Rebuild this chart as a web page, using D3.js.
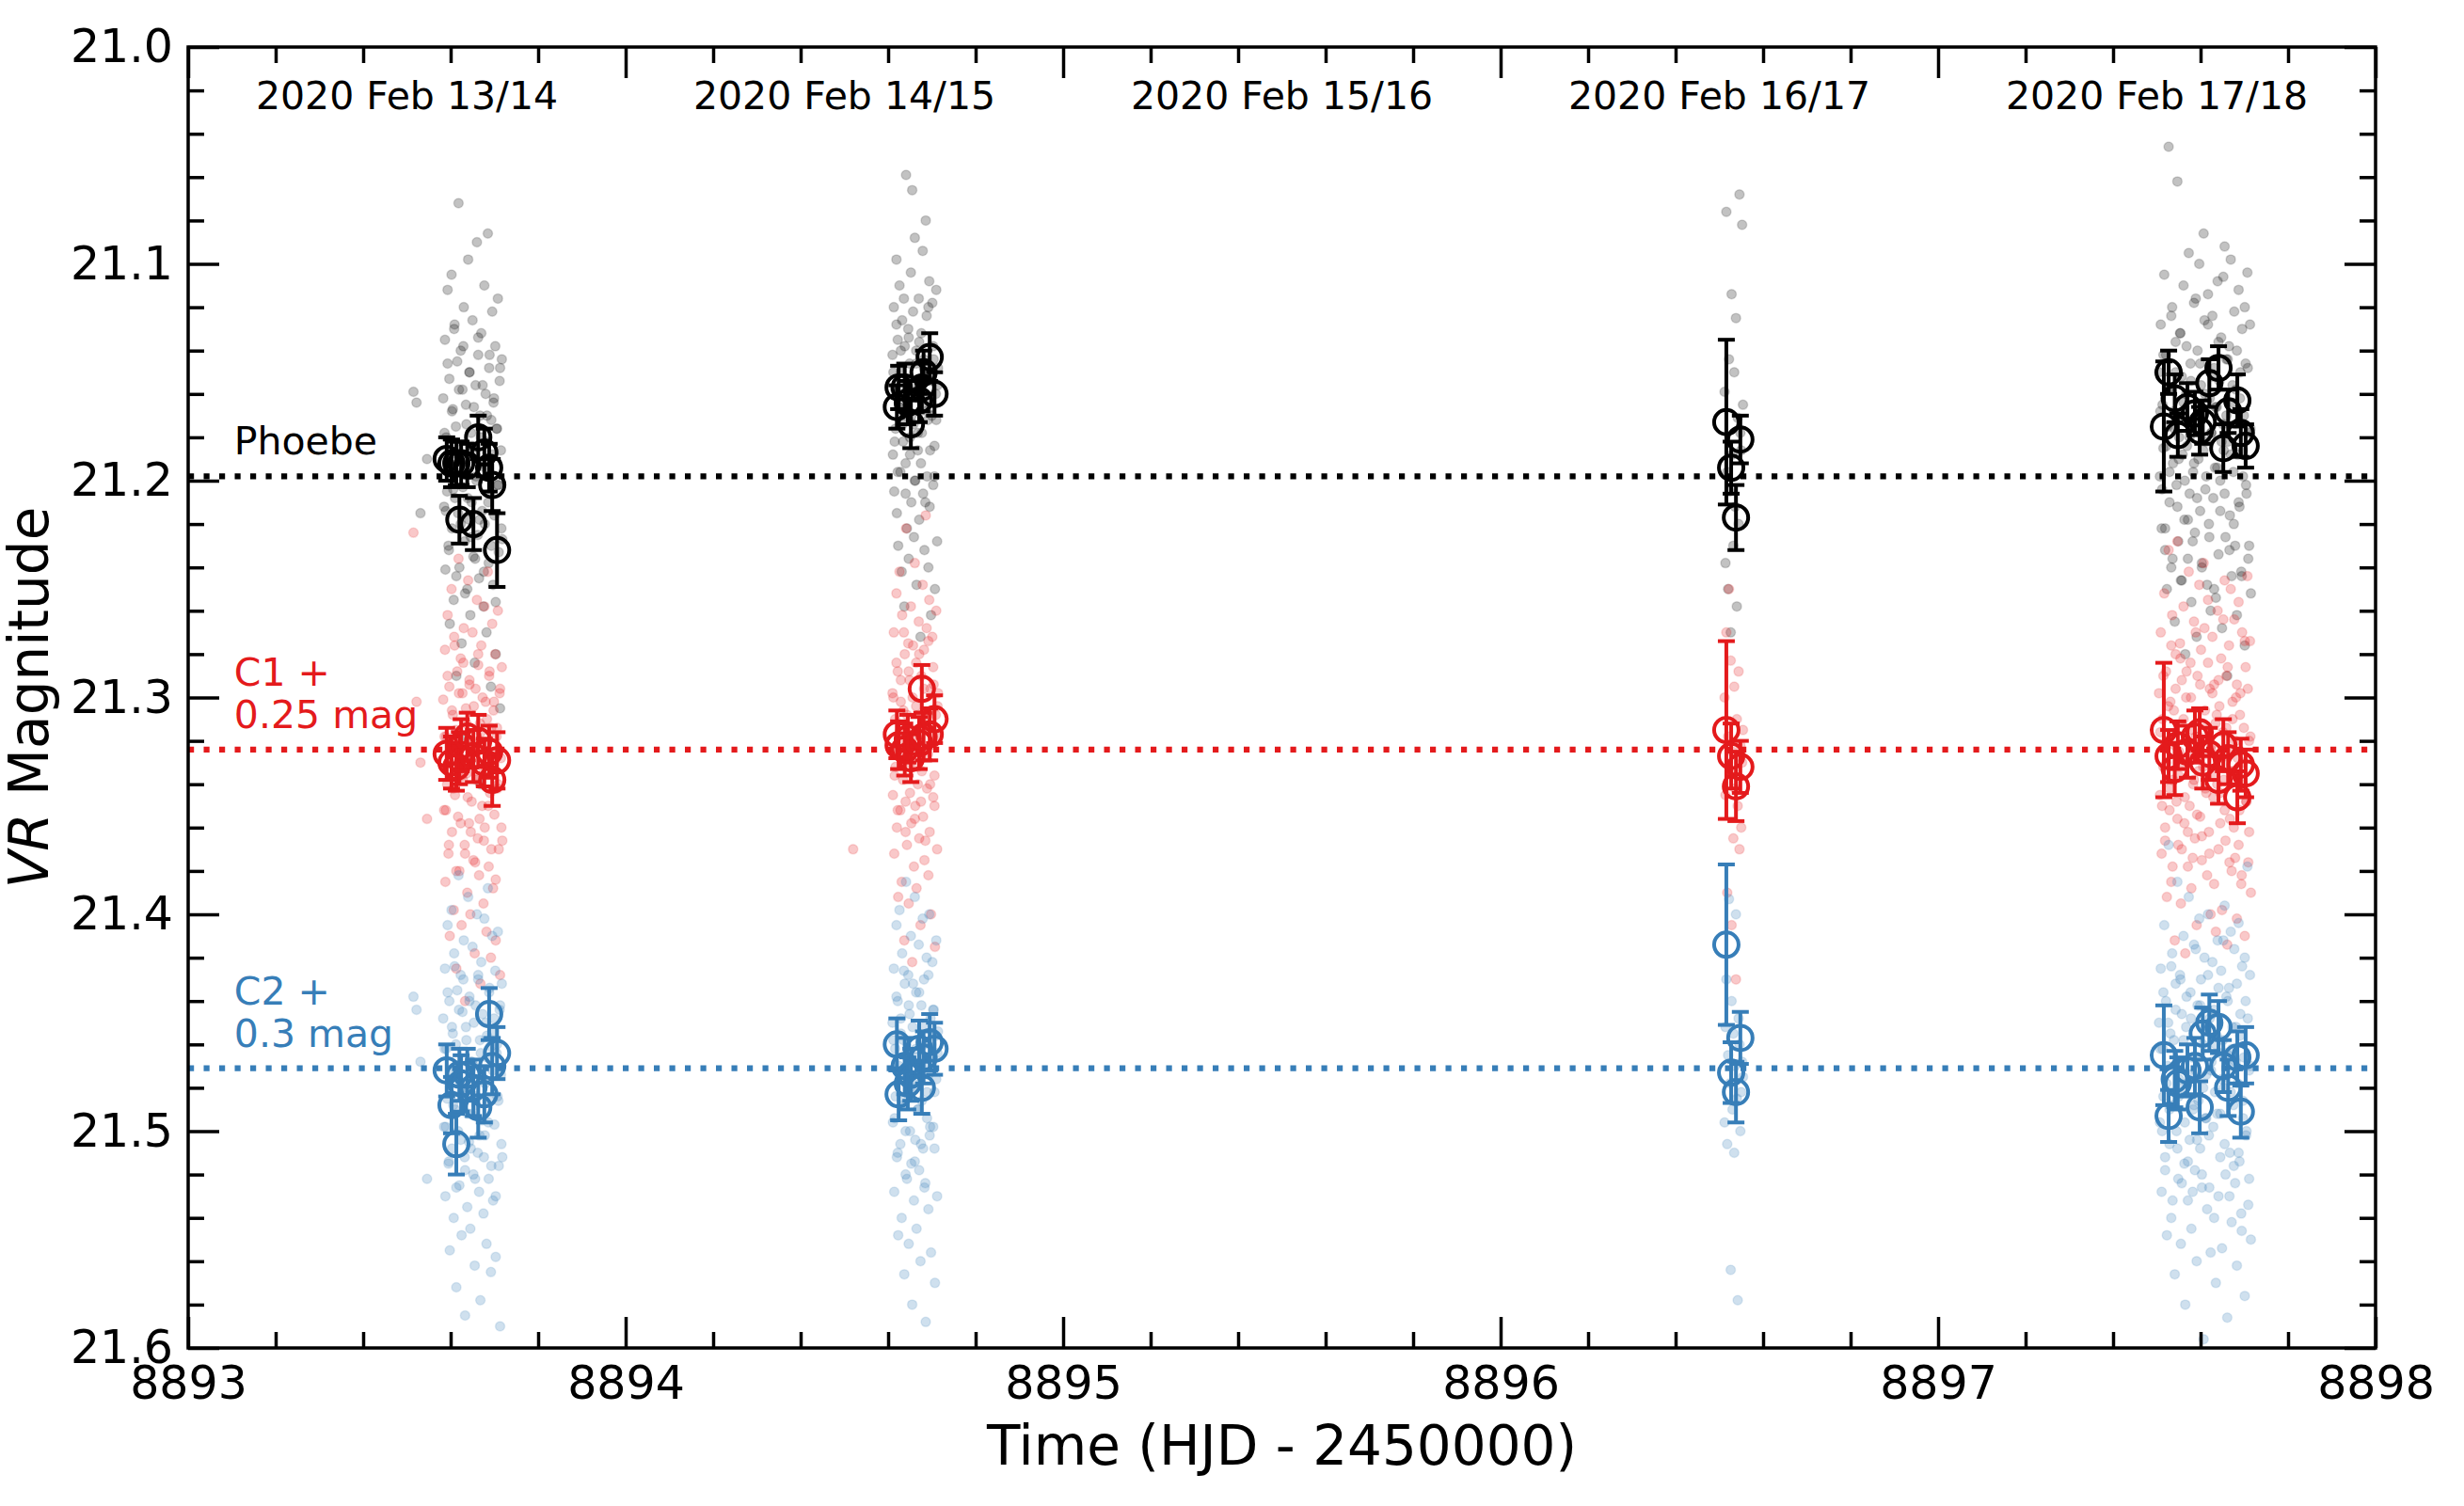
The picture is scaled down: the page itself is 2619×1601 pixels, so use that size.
<!DOCTYPE html>
<html>
<head>
<meta charset="utf-8">
<script src="https://cdn.jsdelivr.net/npm/d3@7"></script>
<style>
body { margin: 0; background: #fff; }
svg { display: block; font-family: "DejaVu Sans", sans-serif; }
</style>
</head>
<body>
<svg width="2619" height="1601"></svg>
<script>
// ---- single frames, Feb 13/14 ----
var night1Time = [8893.515, 8893.522, 8893.531, 8893.546,
    8893.583, 8893.585, 8893.587, 8893.588, 8893.590, 8893.592, 8893.593, 8893.595, 8893.597, 8893.598,
    8893.600, 8893.602, 8893.603, 8893.605, 8893.607, 8893.608, 8893.610, 8893.612, 8893.613, 8893.615,
    8893.617, 8893.618, 8893.620, 8893.622, 8893.623, 8893.625, 8893.627, 8893.628, 8893.630, 8893.632,
    8893.633, 8893.635, 8893.637, 8893.638, 8893.640, 8893.642, 8893.643, 8893.645, 8893.647, 8893.648,
    8893.650, 8893.652, 8893.653, 8893.655, 8893.657, 8893.658, 8893.660, 8893.662, 8893.663, 8893.665,
    8893.667, 8893.668, 8893.670, 8893.672, 8893.673, 8893.675, 8893.677, 8893.678, 8893.680, 8893.682,
    8893.683, 8893.685, 8893.687, 8893.688, 8893.690, 8893.692, 8893.693, 8893.695, 8893.697, 8893.698,
    8893.700, 8893.702, 8893.703, 8893.705, 8893.707, 8893.708, 8893.710, 8893.712, 8893.713, 8893.715,
    8893.717, 8893.718,
    8893.586, 8893.589, 8893.593, 8893.596, 8893.599, 8893.603, 8893.606, 8893.609, 8893.613, 8893.616,
    8893.619, 8893.623, 8893.626, 8893.629, 8893.633, 8893.636, 8893.639, 8893.643, 8893.646, 8893.649,
    8893.653, 8893.656, 8893.659, 8893.663, 8893.666, 8893.669, 8893.673, 8893.676, 8893.679, 8893.683,
    8893.686, 8893.689, 8893.693, 8893.696, 8893.699, 8893.703, 8893.706, 8893.709, 8893.713, 8893.716];
var night1Phoebe = [21.159, 21.164, 21.215, 21.190,
    21.162, 21.212, 21.135, 21.241, 21.180, 21.205, 21.112, 21.230, 21.153, 21.266,
    21.188, 21.105, 21.222, 21.167, 21.255, 21.130, 21.208, 21.175, 21.290, 21.145,
    21.215, 21.072, 21.240, 21.190, 21.140, 21.275, 21.158, 21.203, 21.120, 21.228,
    21.318, 21.165, 21.195, 21.250, 21.098, 21.218, 21.150, 21.262, 21.178, 21.210,
    21.126, 21.235, 21.185, 21.284, 21.156, 21.198, 21.090, 21.225, 21.142, 21.245,
    21.170, 21.340, 21.132, 21.214, 21.192, 21.258, 21.110, 21.220, 21.160, 21.270,
    21.182, 21.086, 21.238, 21.148, 21.206, 21.295, 21.172, 21.122, 21.248, 21.164,
    21.216, 21.138, 21.280, 21.176, 21.202, 21.116, 21.233, 21.154, 21.305, 21.186,
    21.144, 21.227,
    21.178, 21.214, 21.146, 21.232, 21.192, 21.168, 21.204, 21.128, 21.244, 21.186,
    21.158, 21.220, 21.196, 21.138, 21.252, 21.174, 21.208, 21.150, 21.226, 21.184,
    21.166, 21.236, 21.200, 21.134, 21.218, 21.180, 21.156, 21.242, 21.194, 21.170,
    21.210, 21.142, 21.230, 21.188, 21.162, 21.256, 21.176, 21.202, 21.148, 21.222];
var night1C1 = [21.224, 21.302, 21.330, 21.356,
    21.301, 21.352, 21.278, 21.385, 21.318, 21.340, 21.262, 21.372, 21.295, 21.410,
    21.326, 21.250, 21.362, 21.308, 21.398, 21.272, 21.345, 21.315, 21.425, 21.288,
    21.355, 21.236, 21.380, 21.330, 21.282, 21.405, 21.298, 21.338, 21.268, 21.368,
    21.440, 21.305, 21.335, 21.390, 21.246, 21.358, 21.292, 21.400, 21.320, 21.348,
    21.270, 21.375, 21.325, 21.418, 21.296, 21.336, 21.255, 21.365, 21.285, 21.382,
    21.312, 21.432, 21.276, 21.350, 21.332, 21.395, 21.258, 21.360, 21.302, 21.408,
    21.322, 21.242, 21.378, 21.290, 21.344, 21.420, 21.314, 21.266, 21.388, 21.306,
    21.354, 21.280, 21.412, 21.318, 21.342, 21.260, 21.370, 21.298, 21.428, 21.328,
    21.286, 21.366,
    21.318, 21.352, 21.290, 21.368, 21.330, 21.306, 21.342, 21.276, 21.380, 21.324,
    21.298, 21.358, 21.336, 21.284, 21.372, 21.312, 21.346, 21.294, 21.362, 21.322,
    21.304, 21.376, 21.338, 21.280, 21.356, 21.316, 21.300, 21.366, 21.332, 21.310,
    21.350, 21.288, 21.370, 21.326, 21.302, 21.384, 21.314, 21.340, 21.296, 21.360];
var night1C2 = [21.438, 21.444, 21.468, 21.522,
    21.448, 21.498, 21.425, 21.530, 21.462, 21.485, 21.405, 21.515, 21.440, 21.555,
    21.472, 21.398, 21.508, 21.455, 21.540, 21.418, 21.490, 21.460, 21.572, 21.435,
    21.500, 21.382, 21.525, 21.478, 21.428, 21.548, 21.445, 21.482, 21.412, 21.512,
    21.585, 21.452, 21.480, 21.535, 21.392, 21.505, 21.438, 21.545, 21.468, 21.492,
    21.415, 21.520, 21.470, 21.562, 21.442, 21.488, 21.400, 21.510, 21.430, 21.528,
    21.458, 21.578, 21.422, 21.495, 21.476, 21.538, 21.402, 21.502, 21.450, 21.552,
    21.466, 21.388, 21.522, 21.436, 21.486, 21.565, 21.461, 21.410, 21.532, 21.454,
    21.497, 21.426, 21.558, 21.464, 21.484, 21.408, 21.516, 21.444, 21.590, 21.474,
    21.432, 21.512,
    21.462, 21.498, 21.436, 21.514, 21.476, 21.452, 21.488, 21.424, 21.526, 21.470,
    21.444, 21.504, 21.482, 21.430, 21.518, 21.458, 21.492, 21.440, 21.508, 21.468,
    21.450, 21.522, 21.484, 21.428, 21.502, 21.464, 21.446, 21.512, 21.478, 21.456,
    21.496, 21.434, 21.516, 21.472, 21.448, 21.530, 21.460, 21.486, 21.442, 21.506];

// ---- single frames, Feb 14/15 ----
var night2Time = [8894.520,
    8894.610, 8894.611, 8894.613, 8894.614, 8894.616, 8894.617, 8894.619, 8894.620, 8894.622, 8894.623,
    8894.625, 8894.626, 8894.628, 8894.629, 8894.631, 8894.632, 8894.634, 8894.635, 8894.637, 8894.638,
    8894.640, 8894.641, 8894.643, 8894.644, 8894.646, 8894.647, 8894.649, 8894.650, 8894.652, 8894.653,
    8894.655, 8894.656, 8894.658, 8894.659, 8894.661, 8894.662, 8894.664, 8894.665, 8894.667, 8894.668,
    8894.670, 8894.671, 8894.673, 8894.674, 8894.676, 8894.677, 8894.679, 8894.680, 8894.682, 8894.683,
    8894.685, 8894.686, 8894.688, 8894.689, 8894.691, 8894.692, 8894.694, 8894.695, 8894.697, 8894.698,
    8894.700, 8894.701, 8894.703, 8894.704, 8894.706, 8894.707, 8894.709, 8894.710, 8894.712, 8894.713,
    8894.612, 8894.615, 8894.619, 8894.622, 8894.626, 8894.629, 8894.633, 8894.636, 8894.640, 8894.643,
    8894.647, 8894.650, 8894.654, 8894.657, 8894.661, 8894.664, 8894.668, 8894.671, 8894.675, 8894.678,
    8894.682, 8894.685, 8894.689, 8894.692, 8894.696, 8894.699, 8894.703, 8894.706, 8894.710, 8894.714];
var night2Phoebe = [null,
    21.142, 21.188, 21.120, 21.205, 21.158, 21.176, 21.098, 21.215, 21.135, 21.230,
    21.166, 21.110, 21.196, 21.150, 21.242, 21.126, 21.182, 21.160, 21.258, 21.138,
    21.192, 21.059, 21.222, 21.170, 21.130, 21.236, 21.146, 21.180, 21.104, 21.210,
    21.066, 21.155, 21.174, 21.226, 21.088, 21.200, 21.140, 21.248, 21.162, 21.186,
    21.116, 21.218, 21.168, 21.272, 21.132, 21.178, 21.094, 21.206, 21.148, 21.232,
    21.164, 21.080, 21.124, 21.198, 21.172, 21.240, 21.108, 21.212, 21.152, 21.262,
    21.170, 21.118, 21.202, 21.144, 21.184, 21.250, 21.160, 21.112, 21.228, 21.156,
    21.150, 21.182, 21.128, 21.196, 21.166, 21.140, 21.174, 21.116, 21.206, 21.158,
    21.134, 21.188, 21.170, 21.122, 21.200, 21.146, 21.178, 21.136, 21.192, 21.162,
    21.144, 21.210, 21.168, 21.120, 21.186, 21.154, 21.138, 21.198, 21.172, 21.148];
var night2C1 = [21.370,
    21.298, 21.345, 21.270, 21.372, 21.310, 21.332, 21.252, 21.360, 21.288, 21.392,
    21.320, 21.242, 21.352, 21.302, 21.385, 21.262, 21.338, 21.306, 21.412, 21.280,
    21.348, 21.222, 21.368, 21.325, 21.275, 21.395, 21.292, 21.330, 21.258, 21.358,
    21.422, 21.300, 21.328, 21.378, 21.238, 21.350, 21.284, 21.388, 21.315, 21.340,
    21.265, 21.365, 21.318, 21.405, 21.290, 21.334, 21.248, 21.355, 21.278, 21.375,
    21.312, 21.216, 21.268, 21.342, 21.326, 21.382, 21.255, 21.362, 21.296, 21.400,
    21.322, 21.272, 21.346, 21.294, 21.336, 21.415, 21.308, 21.260, 21.370, 21.304,
    21.300, 21.336, 21.284, 21.352, 21.316, 21.292, 21.328, 21.270, 21.362, 21.308,
    21.288, 21.344, 21.320, 21.276, 21.356, 21.304, 21.332, 21.280, 21.348, 21.312,
    21.296, 21.366, 21.324, 21.274, 21.340, 21.306, 21.286, 21.350, 21.318, 21.298];
var night2C2 = [null,
    21.450, 21.496, 21.425, 21.528, 21.462, 21.484, 21.405, 21.512, 21.440, 21.548,
    21.470, 21.398, 21.506, 21.455, 21.540, 21.418, 21.488, 21.458, 21.566, 21.432,
    21.500, 21.385, 21.522, 21.476, 21.428, 21.552, 21.446, 21.480, 21.410, 21.515,
    21.580, 21.452, 21.478, 21.532, 21.392, 21.504, 21.436, 21.545, 21.466, 21.490,
    21.414, 21.518, 21.472, 21.560, 21.442, 21.486, 21.402, 21.508, 21.430, 21.526,
    21.460, 21.588, 21.420, 21.494, 21.474, 21.536, 21.400, 21.502, 21.448, 21.556,
    21.468, 21.422, 21.498, 21.444, 21.482, 21.570, 21.456, 21.412, 21.530, 21.464,
    21.458, 21.494, 21.438, 21.510, 21.474, 21.448, 21.486, 21.426, 21.520, 21.466,
    21.442, 21.500, 21.480, 21.432, 21.514, 21.462, 21.490, 21.436, 21.506, 21.470,
    21.452, 21.524, 21.482, 21.428, 21.498, 21.460, 21.444, 21.508, 21.476, 21.454];

// ---- single frames, Feb 16/17 ----
var night4Time = [8896.512, 8896.514, 8896.516, 8896.518, 8896.520, 8896.522, 8896.524, 8896.526,
    8896.528, 8896.530, 8896.532, 8896.534, 8896.536, 8896.538, 8896.540, 8896.542, 8896.544, 8896.546,
    8896.548, 8896.550, 8896.552, 8896.554];
var night4Phoebe = [21.159, 21.238, 21.076, 21.196, 21.250, 21.144, 21.205, 21.270, 21.114, 21.188,
    21.230, 21.150, 21.212, 21.125, 21.258, 21.171, 21.220, 21.068, 21.178, 21.186, 21.082, 21.165];
var night4C1 = [21.300, 21.345, 21.270, 21.390, 21.318, 21.250, 21.335, 21.283, 21.405, 21.325,
    21.365, 21.295, 21.342, 21.430, 21.310, 21.350, 21.288, 21.370, 21.322, 21.360, 21.330, 21.315];
var night4C2 = [21.496, 21.452, 21.430, 21.506, 21.465, 21.393, 21.478, 21.564, 21.440, 21.490,
    21.455, 21.510, 21.470, 21.400, 21.485, 21.578, 21.448, 21.460, 21.500, 21.482, 21.468, 21.475];

// ---- single frames, Feb 17/18 ----
var night5Time = [8897.505, 8897.507, 8897.509, 8897.511, 8897.513, 8897.515, 8897.517, 8897.519, 8897.521, 8897.523,
    8897.525, 8897.527, 8897.529, 8897.531, 8897.533, 8897.535, 8897.537, 8897.539, 8897.541, 8897.543,
    8897.545, 8897.547, 8897.549, 8897.551, 8897.553, 8897.555, 8897.557, 8897.559, 8897.561, 8897.563,
    8897.565, 8897.567, 8897.569, 8897.571, 8897.573, 8897.575, 8897.577, 8897.579, 8897.581, 8897.583,
    8897.585, 8897.587, 8897.589, 8897.591, 8897.593, 8897.595, 8897.597, 8897.599, 8897.601, 8897.603,
    8897.605, 8897.607, 8897.609, 8897.611, 8897.613, 8897.615, 8897.617, 8897.619, 8897.621, 8897.623,
    8897.625, 8897.627, 8897.629, 8897.631, 8897.633, 8897.635, 8897.637, 8897.639, 8897.641, 8897.643,
    8897.645, 8897.647, 8897.649, 8897.651, 8897.653, 8897.655, 8897.657, 8897.659, 8897.661, 8897.663,
    8897.665, 8897.667, 8897.669, 8897.671, 8897.673, 8897.675, 8897.677, 8897.679, 8897.681, 8897.683,
    8897.685, 8897.687, 8897.689, 8897.691, 8897.693, 8897.695, 8897.697, 8897.699, 8897.701, 8897.703,
    8897.705, 8897.707, 8897.709, 8897.711, 8897.713, 8897.715,
    8897.508, 8897.512, 8897.515, 8897.519, 8897.522, 8897.526, 8897.529, 8897.533, 8897.536, 8897.540,
    8897.543, 8897.547, 8897.550, 8897.554, 8897.557, 8897.561, 8897.564, 8897.568, 8897.571, 8897.575,
    8897.578, 8897.582, 8897.585, 8897.589, 8897.592, 8897.596, 8897.599, 8897.603, 8897.606, 8897.610,
    8897.613, 8897.617, 8897.620, 8897.624, 8897.627, 8897.631, 8897.634, 8897.638, 8897.641, 8897.645,
    8897.648, 8897.652, 8897.655, 8897.659, 8897.662, 8897.666, 8897.669, 8897.673, 8897.676, 8897.680,
    8897.683, 8897.687, 8897.690, 8897.694, 8897.697, 8897.701, 8897.704, 8897.708, 8897.711, 8897.714];
var night5Phoebe = [21.150, 21.198, 21.128, 21.222, 21.165, 21.185, 21.105, 21.232, 21.142, 21.250,
    21.175, 21.046, 21.210, 21.158, 21.240, 21.120, 21.192, 21.168, 21.265, 21.136,
    21.202, 21.062, 21.228, 21.180, 21.132, 21.246, 21.152, 21.188, 21.110, 21.218,
    21.280, 21.160, 21.184, 21.236, 21.095, 21.206, 21.146, 21.256, 21.172, 21.196,
    21.118, 21.224, 21.176, 21.272, 21.140, 21.190, 21.100, 21.214, 21.156, 21.238,
    21.170, 21.086, 21.126, 21.204, 21.182, 21.248, 21.114, 21.220, 21.162, 21.260,
    21.178, 21.124, 21.208, 21.148, 21.194, 21.254, 21.166, 21.108, 21.234, 21.154,
    21.200, 21.134, 21.268, 21.174, 21.186, 21.092, 21.226, 21.144, 21.290, 21.182,
    21.138, 21.216, 21.098, 21.244, 21.164, 21.196, 21.122, 21.230, 21.158, 21.262,
    21.188, 21.112, 21.212, 21.150, 21.242, 21.130, 21.198, 21.170, 21.276, 21.146,
    21.206, 21.104, 21.236, 21.178, 21.128, 21.252,
    21.168, 21.204, 21.142, 21.222, 21.184, 21.158, 21.196, 21.124, 21.236, 21.176,
    21.150, 21.212, 21.190, 21.132, 21.246, 21.164, 21.200, 21.138, 21.218, 21.180,
    21.154, 21.228, 21.192, 21.116, 21.208, 21.172, 21.146, 21.240, 21.186, 21.160,
    21.198, 21.128, 21.226, 21.178, 21.152, 21.250, 21.166, 21.194, 21.136, 21.214,
    21.182, 21.106, 21.206, 21.170, 21.144, 21.232, 21.188, 21.156, 21.220, 21.174,
    21.140, 21.210, 21.162, 21.244, 21.186, 21.120, 21.202, 21.148, 21.230, 21.176];
var night5C1 = [21.298, 21.345, 21.270, 21.372, 21.310, 21.332, 21.252, 21.360, 21.288, 21.392,
    21.320, 21.232, 21.352, 21.302, 21.385, 21.262, 21.338, 21.306, 21.412, 21.280,
    21.348, 21.228, 21.368, 21.325, 21.275, 21.395, 21.292, 21.330, 21.258, 21.358,
    21.418, 21.300, 21.328, 21.378, 21.242, 21.350, 21.284, 21.388, 21.315, 21.340,
    21.265, 21.365, 21.318, 21.405, 21.290, 21.334, 21.248, 21.355, 21.278, 21.375,
    21.312, 21.238, 21.268, 21.342, 21.326, 21.382, 21.255, 21.362, 21.296, 21.400,
    21.322, 21.272, 21.346, 21.294, 21.336, 21.408, 21.308, 21.260, 21.370, 21.304,
    21.344, 21.282, 21.398, 21.316, 21.338, 21.246, 21.366, 21.290, 21.414, 21.324,
    21.276, 21.356, 21.250, 21.380, 21.310, 21.334, 21.264, 21.374, 21.300, 21.402,
    21.328, 21.256, 21.352, 21.298, 21.386, 21.270, 21.340, 21.314, 21.410, 21.286,
    21.348, 21.244, 21.376, 21.320, 21.274, 21.390,
    21.316, 21.350, 21.290, 21.366, 21.330, 21.304, 21.342, 21.276, 21.378, 21.322,
    21.296, 21.356, 21.336, 21.282, 21.370, 21.310, 21.346, 21.288, 21.362, 21.326,
    21.300, 21.374, 21.338, 21.270, 21.354, 21.318, 21.294, 21.364, 21.332, 21.306,
    21.344, 21.284, 21.372, 21.324, 21.298, 21.386, 21.312, 21.340, 21.292, 21.358,
    21.328, 21.264, 21.352, 21.314, 21.286, 21.376, 21.334, 21.302, 21.360, 21.320,
    21.294, 21.368, 21.308, 21.382, 21.330, 21.274, 21.348, 21.296, 21.362, 21.318];
var night5C2 = [21.450, 21.496, 21.425, 21.528, 21.462, 21.484, 21.405, 21.512, 21.440, 21.548,
    21.470, 21.368, 21.506, 21.455, 21.540, 21.418, 21.488, 21.458, 21.566, 21.432,
    21.500, 21.385, 21.522, 21.476, 21.428, 21.552, 21.446, 21.480, 21.410, 21.515,
    21.580, 21.452, 21.478, 21.532, 21.392, 21.504, 21.436, 21.545, 21.466, 21.490,
    21.414, 21.518, 21.472, 21.560, 21.442, 21.486, 21.402, 21.508, 21.430, 21.526,
    21.460, 21.596, 21.420, 21.494, 21.474, 21.536, 21.400, 21.502, 21.448, 21.556,
    21.468, 21.422, 21.498, 21.444, 21.482, 21.570, 21.456, 21.412, 21.530, 21.464,
    21.492, 21.426, 21.554, 21.458, 21.480, 21.396, 21.520, 21.438, 21.586, 21.470,
    21.434, 21.510, 21.408, 21.542, 21.462, 21.488, 21.416, 21.524, 21.452, 21.562,
    21.478, 21.404, 21.514, 21.446, 21.538, 21.424, 21.494, 21.466, 21.576, 21.440,
    21.500, 21.378, 21.534, 21.472, 21.428, 21.550,
    21.462, 21.500, 21.436, 21.518, 21.478, 21.450, 21.490, 21.424, 21.532, 21.470,
    21.444, 21.508, 21.484, 21.430, 21.524, 21.458, 21.496, 21.438, 21.514, 21.474,
    21.448, 21.528, 21.488, 21.416, 21.504, 21.466, 21.442, 21.520, 21.480, 21.454,
    21.494, 21.428, 21.526, 21.472, 21.446, 21.540, 21.460, 21.492, 21.434, 21.512,
    21.476, 21.412, 21.506, 21.464, 21.440, 21.530, 21.482, 21.452, 21.516, 21.468,
    21.432, 21.510, 21.456, 21.546, 21.486, 21.420, 21.502, 21.448, 21.522, 21.470];

// ---- binned means with errors (all nights) ----
var binTime = [8893.591, 8893.602, 8893.613, 8893.620, 8893.624, 8893.638, 8893.652, 8893.663, 8893.677, 8893.688, 8893.695, 8893.706,
    8894.620, 8894.624, 8894.638, 8894.645, 8894.652, 8894.671, 8894.677, 8894.681, 8894.695, 8894.706,
    8896.516, 8896.527, 8896.538, 8896.548,
    8897.516, 8897.527, 8897.541, 8897.548, 8897.570, 8897.587, 8897.598, 8897.605, 8897.620, 8897.641, 8897.652, 8897.663, 8897.684, 8897.692, 8897.703];
var binPhoebe = [21.190, 21.192, 21.192, 21.218, 21.192, 21.193, 21.220, 21.180, 21.187, 21.194, 21.202, 21.232,
    21.166, 21.157, 21.157, 21.164, 21.174, 21.163, 21.157, 21.150, 21.143, 21.160,
    21.173, 21.194, 21.217, 21.181,
    21.175, 21.150, 21.162, 21.179, 21.166, 21.169, 21.177, 21.173, 21.155, 21.148, 21.185, 21.168, 21.163, 21.178, 21.184];
var binPhoebeErr = [0.010, 0.011, 0.010, 0.011, 0.010, 0.010, 0.012, 0.010, 0.011, 0.011, 0.012, 0.017,
    0.010, 0.010, 0.011, 0.010, 0.011, 0.010, 0.011, 0.010, 0.011, 0.010,
    0.038, 0.012, 0.015, 0.011,
    0.030, 0.010, 0.011, 0.010, 0.011, 0.010, 0.011, 0.010, 0.011, 0.010, 0.011, 0.010, 0.012, 0.011, 0.010];
var binC1 = [21.326, 21.330, 21.332, 21.328, 21.322, 21.318, 21.327, 21.320, 21.330, 21.325, 21.338, 21.329,
    21.317, 21.322, 21.324, 21.319, 21.328, 21.321, 21.296, 21.318, 21.317, 21.310,
    21.315, 21.327, 21.341, 21.332,
    21.315, 21.327, 21.333, 21.322, 21.325, 21.318, 21.316, 21.330, 21.326, 21.338, 21.322, 21.328, 21.346, 21.331, 21.335];
var binC1Err = [0.012, 0.012, 0.011, 0.012, 0.012, 0.011, 0.012, 0.012, 0.011, 0.012, 0.012, 0.013,
    0.011, 0.011, 0.012, 0.011, 0.011, 0.012, 0.011, 0.011, 0.012, 0.011,
    0.041, 0.015, 0.016, 0.012,
    0.031, 0.012, 0.012, 0.011, 0.012, 0.012, 0.011, 0.012, 0.012, 0.011, 0.012, 0.012, 0.012, 0.012, 0.011];
var binC2 = [21.472, 21.488, 21.506, 21.474, 21.478, 21.474, 21.480, 21.489, 21.483, 21.446, 21.470, 21.464,
    21.460, 21.483, 21.470, 21.478, 21.474, 21.462, 21.480, 21.466, 21.459, 21.462,
    21.414, 21.473, 21.482, 21.457,
    21.465, 21.493, 21.476, 21.478, 21.472, 21.470, 21.489, 21.455, 21.450, 21.452, 21.470, 21.480, 21.466, 21.491, 21.465];
var binC2Err = [0.012, 0.013, 0.014, 0.012, 0.013, 0.012, 0.013, 0.014, 0.013, 0.012, 0.013, 0.012,
    0.012, 0.012, 0.013, 0.012, 0.012, 0.013, 0.012, 0.012, 0.013, 0.012,
    0.037, 0.014, 0.014, 0.012,
    0.023, 0.012, 0.013, 0.012, 0.012, 0.013, 0.012, 0.012, 0.013, 0.012, 0.012, 0.013, 0.012, 0.012, 0.013];

// ---- reference levels, labels, ticks ----
var meanLevel = {phoebe: 21.198, c1: 21.324, c2: 21.471};
var nightLabels = ["2020 Feb 13/14", "2020 Feb 14/15", "2020 Feb 15/16", "2020 Feb 16/17", "2020 Feb 17/18"];
var nightLabelTime = [8893.5, 8894.5, 8895.5, 8896.5, 8897.5];
var xTicks = [8893, 8894, 8895, 8896, 8897, 8898];
var yTicks = [21.0, 21.1, 21.2, 21.3, 21.4, 21.5, 21.6];

var svg = d3.select("svg");
var margin = {"top": 50, "right": 94, "bottom": 168, "left": 200};
var width = +svg.attr("width") - margin.left - margin.right;
var height = +svg.attr("height") - margin.top - margin.bottom;

var g = svg.append("g").attr("transform", "translate(" + margin.left + "," + margin.top + ")");

var x = d3.scaleLinear().domain([8893, 8898]).range([0, width]);
var y = d3.scaleLinear().domain([21.0, 21.6]).range([0, height]);

svg.append("defs").append("clipPath").attr("id", "clip")
    .append("rect").attr("width", width).attr("height", height);

var series = [
    {color: "#000000", level: meanLevel.phoebe, mags: [night1Phoebe, night2Phoebe, night4Phoebe, night5Phoebe], bin: binPhoebe, err: binPhoebeErr},
    {color: "#e41a1c", level: meanLevel.c1, mags: [night1C1, night2C1, night4C1, night5C1], bin: binC1, err: binC1Err},
    {color: "#377eb8", level: meanLevel.c2, mags: [night1C2, night2C2, night4C2, night5C2], bin: binC2, err: binC2Err}
];
var nightTimes = [night1Time, night2Time, night4Time, night5Time];

// faint single-frame points
var dots = g.append("g").attr("clip-path", "url(#clip)");
series.forEach(function (s) {
    var pts = [];
    nightTimes.forEach(function (times, n) {
        times.forEach(function (t, i) {
            var m = s.mags[n][i];
            if (m != null) pts.push({t: t, m: m});
        });
    });
    dots.append("g").selectAll("circle")
        .data(pts)
        .enter().append("circle")
        .attr("cx", function (d) { return x(d.t); })
        .attr("cy", function (d) { return y(d.m); })
        .attr("r", 5)
        .attr("fill", s.color)
        .attr("fill-opacity", 0.24)
        .attr("stroke", s.color)
        .attr("stroke-opacity", 0.14)
        .attr("stroke-width", 1.5);
});

// dotted mean levels
series.forEach(function (s) {
    g.append("line")
        .attr("x1", 0).attr("x2", width)
        .attr("y1", y(s.level)).attr("y2", y(s.level))
        .attr("stroke", s.color)
        .attr("stroke-width", 6.2)
        .attr("stroke-dasharray", "6.2 10.3");
});

// binned points with error bars
series.forEach(function (s) {
    var data = binTime.map(function (t, i) { return {t: t, m: s.bin[i], e: s.err[i]}; });
    var eb = g.append("g").selectAll("g")
        .data(data)
        .enter().append("g")
        .attr("stroke", s.color)
        .attr("stroke-width", 4)
        .attr("fill", "none");
    eb.append("line")
        .attr("x1", function (d) { return x(d.t); })
        .attr("x2", function (d) { return x(d.t); })
        .attr("y1", function (d) { return y(d.m - d.e); })
        .attr("y2", function (d) { return y(d.m + d.e); });
    [-1, 1].forEach(function (sign) {
        eb.append("line")
            .attr("x1", function (d) { return x(d.t) - 9; })
            .attr("x2", function (d) { return x(d.t) + 9; })
            .attr("y1", function (d) { return y(d.m + sign * d.e); })
            .attr("y2", function (d) { return y(d.m + sign * d.e); });
    });
    eb.append("circle")
        .attr("cx", function (d) { return x(d.t); })
        .attr("cy", function (d) { return y(d.m); })
        .attr("r", 13);
});

// axes, ticks pointing in on all four sides
var xMinor = d3.range(0, 26).map(function (i) { return 8893 + i * 0.2; })
    .filter(function (v) { return Math.abs(v - Math.round(v)) > 1e-6; });
var yMinor = d3.range(0, 31).map(function (i) { return 21 + i * 0.02; })
    .filter(function (v) { return Math.abs(v * 10 - Math.round(v * 10)) > 1e-6; });

function styleAxis(sel) {
    sel.select(".domain").remove();
    sel.selectAll(".tick line").attr("stroke", "#000").attr("stroke-width", 3.5);
    sel.selectAll("text")
        .attr("fill", "#000")
        .attr("font-size", 49)
        .attr("font-family", "DejaVu Sans, sans-serif");
}

g.append("g").attr("transform", "translate(0," + height + ")")
    .call(d3.axisBottom(x).tickValues(xTicks).tickSize(-33).tickPadding(19).tickFormat(d3.format("d")))
    .call(styleAxis);
g.append("g").attr("transform", "translate(0," + height + ")")
    .call(d3.axisBottom(x).tickValues(xMinor).tickSize(-17).tickFormat(""))
    .call(styleAxis);
g.append("g")
    .call(d3.axisTop(x).tickValues(xTicks).tickSize(-33).tickFormat(""))
    .call(styleAxis);
g.append("g")
    .call(d3.axisTop(x).tickValues(xMinor).tickSize(-17).tickFormat(""))
    .call(styleAxis);
g.append("g")
    .call(d3.axisLeft(y).tickValues(yTicks).tickSize(-33).tickPadding(16).tickFormat(d3.format(".1f")))
    .call(styleAxis);
g.append("g")
    .call(d3.axisLeft(y).tickValues(yMinor).tickSize(-17).tickFormat(""))
    .call(styleAxis);
g.append("g").attr("transform", "translate(" + width + ",0)")
    .call(d3.axisRight(y).tickValues(yTicks).tickSize(-33).tickFormat(""))
    .call(styleAxis);
g.append("g").attr("transform", "translate(" + width + ",0)")
    .call(d3.axisRight(y).tickValues(yMinor).tickSize(-17).tickFormat(""))
    .call(styleAxis);

g.append("rect")
    .attr("width", width).attr("height", height)
    .attr("fill", "none").attr("stroke", "#000").attr("stroke-width", 3.5);

// night labels
g.selectAll(".night")
    .data(nightLabels)
    .enter().append("text")
    .attr("class", "night")
    .attr("x", function (d, i) { return x(nightLabelTime[i]); })
    .attr("y", y(21.0285))
    .attr("text-anchor", "middle")
    .attr("font-size", 41)
    .text(function (d) { return d; });

// series labels
var labels = [
    {lines: ["Phoebe"], color: "#000000", t: 8893.105, m: 21.188},
    {lines: ["C1 +", "0.25 mag"], color: "#e41a1c", t: 8893.105, m: 21.2946},
    {lines: ["C2 +", "0.3 mag"], color: "#377eb8", t: 8893.105, m: 21.4415}
];
labels.forEach(function (l) {
    var txt = g.append("text")
        .attr("x", x(l.t))
        .attr("y", y(l.m))
        .attr("fill", l.color)
        .attr("font-size", 41);
    l.lines.forEach(function (line, i) {
        txt.append("tspan")
            .attr("x", x(l.t))
            .attr("dy", i === 0 ? 0 : 45)
            .text(line);
    });
});

// axis titles
g.append("text")
    .attr("x", width / 2)
    .attr("y", height + 124)
    .attr("text-anchor", "middle")
    .attr("font-size", 58)
    .text("Time (HJD - 2450000)");

var yl = svg.append("text")
    .attr("transform", "translate(51," + (margin.top + height / 2) + ") rotate(-90)")
    .attr("text-anchor", "middle")
    .attr("font-size", 58);
yl.append("tspan").attr("font-style", "italic").text("VR");
yl.append("tspan").text(" Magnitude");
</script>
</body>
</html>
